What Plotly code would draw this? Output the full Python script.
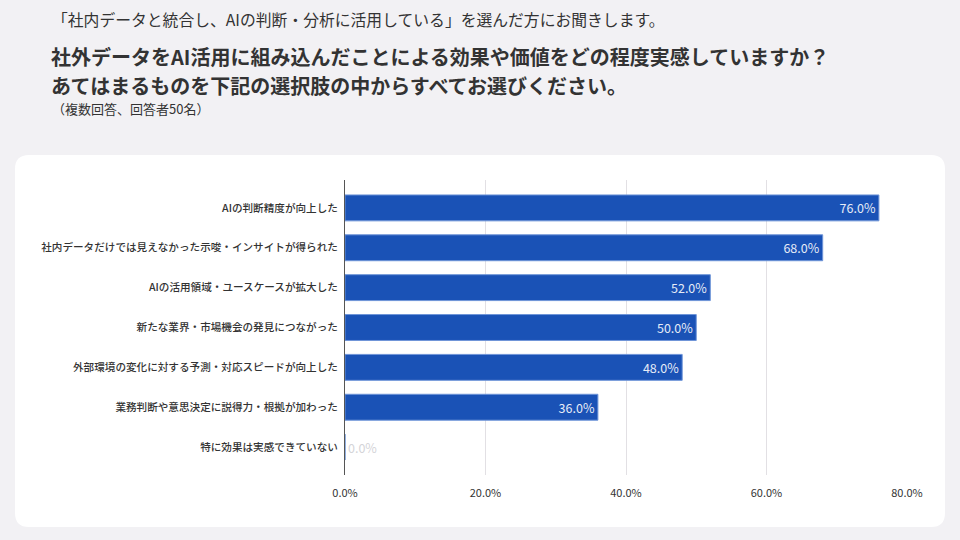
import plotly.graph_objects as go

categories = [
    "AIの判断精度が向上した",
    "社内データだけでは見えなかった示唆・インサイトが得られた",
    "AIの活用領域・ユースケースが拡大した",
    "新たな業界・市場機会の発見につながった",
    "外部環境の変化に対する予測・対応スピードが向上した",
    "業務判断や意思決定に説得力・根拠が加わった",
    "特に効果は実感できていない",
]
values = [76.0, 68.0, 52.0, 50.0, 48.0, 36.0, 0.0]
x_ticks = [0, 20, 40, 60, 80]
x_tick_labels = ["0.0%", "20.0%", "40.0%", "60.0%", "80.0%"]

W, H = 960, 540
FONT = "Noto Sans CJK JP"

def px(x):
    return x / W

def py(y):
    return (H - y) / H

labels = [f"{v:.1f}%" for v in values]
text_pos = ["inside" if v > 0 else "outside" for v in values]
text_col = ["#e6ecf7" if v > 0 else "#d4d4d8" for v in values]

fig = go.Figure()
fig.add_trace(go.Bar(
    y=categories, x=values, orientation="h",
    marker=dict(color="#1a52b6", line=dict(color="#6f95d8", width=1)),
    text=labels, textposition=text_pos, insidetextanchor="end",
    textfont=dict(color=text_col, size=12.5, family=FONT),
    cliponaxis=False, hoverinfo="skip",
))

# rounded white card
x0, y0, x1, y1, r = px(15), py(527), px(945), py(155), 14
rx, ry = r / W, r / H
card = (f"M {x0+rx},{y0} L {x1-rx},{y0} Q {x1},{y0} {x1},{y0+ry} "
        f"L {x1},{y1-ry} Q {x1},{y1} {x1-rx},{y1} L {x0+rx},{y1} "
        f"Q {x0},{y1} {x0},{y1-ry} L {x0},{y0+ry} Q {x0},{y0} {x0+rx},{y0} Z")

fig.update_layout(
    width=W, height=H,
    margin=dict(l=0, r=0, t=0, b=0, autoexpand=False),
    paper_bgcolor="#f2f1f4", plot_bgcolor="rgba(0,0,0,0)",
    showlegend=False,
    bargap=0.35,
    font=dict(family=FONT, color="#333333"),
    shapes=[dict(type="path", path=card, xref="paper", yref="paper",
                 fillcolor="#ffffff", line=dict(width=0), layer="below")],
    xaxis=dict(
        domain=[px(345), px(907)], range=[0, 80], automargin=False,
        tickvals=x_ticks, ticktext=x_tick_labels,
        showgrid=True, gridcolor="#e2e0e4", gridwidth=1,
        zeroline=False, showline=False,
        tickfont=dict(size=11, color="#333333", family=FONT),
        ticks="outside", ticklen=8, tickcolor="rgba(0,0,0,0)",
    ),
    yaxis=dict(
        domain=[py(475), py(180)], range=[6.7, -0.7], automargin=False,
        categoryorder="array", categoryarray=categories,
        showline=True, linecolor="#555555", linewidth=1,
        showgrid=False,
        tickfont=dict(size=10.6, color="#333333", family=FONT, weight=500),
        ticks="outside", ticklen=4, tickcolor="rgba(0,0,0,0)",
    ),
    annotations=[
        dict(text="「社内データと統合し、AIの判断・分析に活用している」を選んだ方にお聞きします。",
             x=px(50), y=py(19), xref="paper", yref="paper", xanchor="left", yanchor="middle",
             showarrow=False, font=dict(size=15.8, color="#333333", family=FONT)),
        dict(text="<b>社外データをAI活用に組み込んだことによる効果や価値をどの程度実感していますか？</b>",
             x=px(49), y=py(57), xref="paper", yref="paper", xanchor="left", yanchor="middle",
             showarrow=False, font=dict(size=20, color="#333333", family=FONT)),
        dict(text="<b>あてはまるものを下記の選択肢の中からすべてお選びください。</b>",
             x=px(49), y=py(86), xref="paper", yref="paper", xanchor="left", yanchor="middle",
             showarrow=False, font=dict(size=20, color="#333333", family=FONT)),
        dict(text="（複数回答、回答者50名）",
             x=px(50), y=py(109), xref="paper", yref="paper", xanchor="left", yanchor="middle",
             showarrow=False, font=dict(size=13, color="#333333", family=FONT)),
    ],
)

fig.write_html("out.html")
